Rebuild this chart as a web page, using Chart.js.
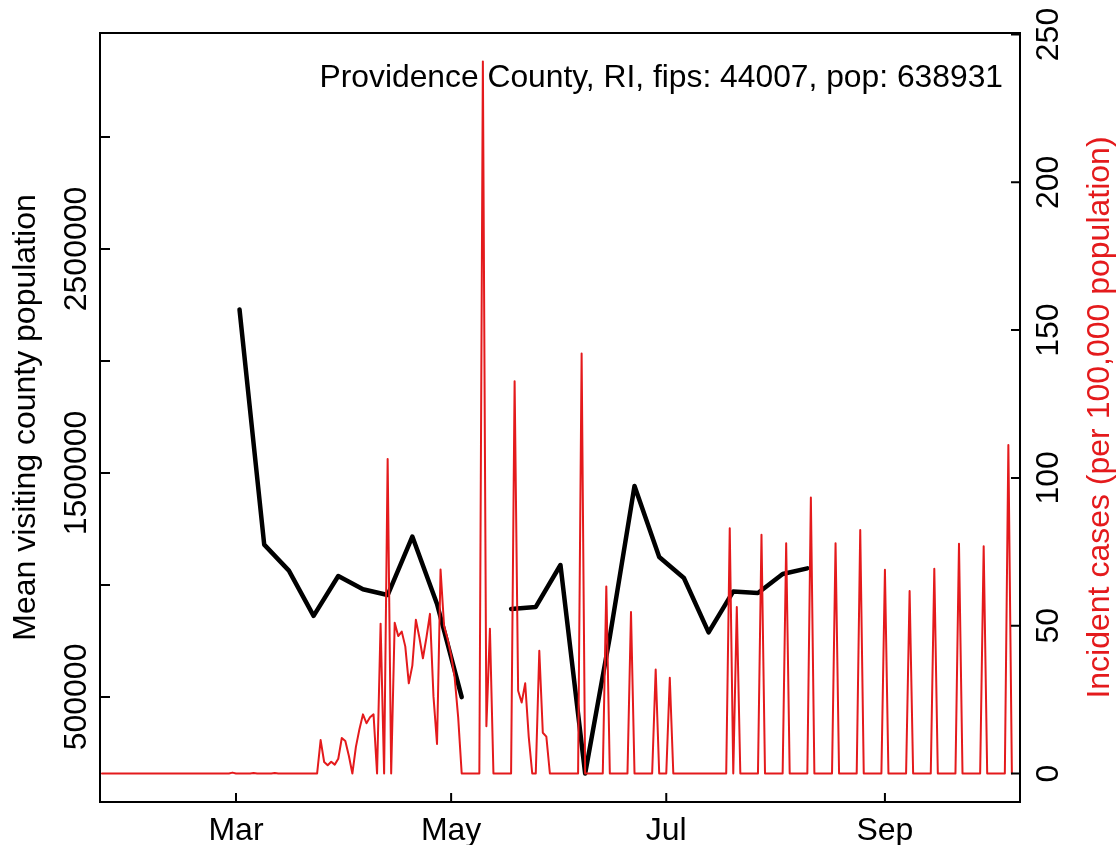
<!DOCTYPE html>
<html>
<head>
<meta charset="utf-8">
<script src="https://cdn.jsdelivr.net/npm/chart.js@4.4.1/dist/chart.umd.min.js"></script>
<style>
  html, body { margin: 0; padding: 0; background: #fff; }
</style>
</head>
<body>
<canvas id="myChart" width="1118" height="845"></canvas>
<script>
// x values are day of year 2020 (Jan 1 = 0)
const monthDays = [60, 121, 182, 244];
const monthLabels = ['Mar', 'May', 'Jul', 'Sep'];

// left axis ticks, only every other one gets a label (like R does)
const leftTicks = [500000, 1000000, 1500000, 2000000, 2500000, 3000000];
const leftLabels = ['500000', '', '1500000', '', '2500000', ''];
const rightTicks = [0, 50, 100, 150, 200, 250];

const titleText = 'Providence County, RI, fips: 44007, pop: 638931';
const leftTitle = 'Mean visiting county population';
const rightTitle = 'Incident cases (per 100,000 population)';

// weekly mean visiting population (black line), null = missing week
const weekDays = [61, 68, 75, 82, 89, 96, 103, 110, 117, 124, 131, 138,
                  145, 152, 159, 166, 173, 180, 187, 194, 201, 208, 215, 222];
const visitors = [2230000, 1180000, 1064000, 862000, 1040000, 981000, 955000, 1216000,
                  915000, 499000, null, 893000, 902000, 1089000, 158000, 768000,
                  1442000, 1125000, 1031000, 788000, 971000, 964000, 1049000, 1074000];

// daily incident cases per 100k (red line), one value per day from caseFirstDay
const caseFirstDay = 22;
const cases = [
  0, 0, 0, 0, 0, 0, 0, 0, 0, 0,            // 22-31
  0, 0, 0, 0, 0, 0, 0, 0, 0, 0,            // 32-41
  0, 0, 0, 0, 0, 0, 0, 0, 0, 0,            // 42-51
  0, 0, 0, 0, 0, 0, 0, 0.3, 0, 0,          // 52-61
  0, 0, 0, 0.16, 0, 0, 0, 0, 0, 0.16,      // 62-71
  0, 0, 0, 0, 0, 0, 0, 0, 0, 0,            // 72-81
  0, 0, 11.3, 3.9, 2.8, 4, 3, 5, 12, 11,   // 82-91
  6, 0, 9, 15, 20, 17, 19, 20, 0, 50.7,    // 92-101
  0, 106.4, 0, 51, 46.5, 48, 43, 30.5, 36.5, 52,   // 102-111
  46, 39, 46, 54, 26, 10, 69, 50, 45.5, 40,        // 112-121
  32.5, 19, 0, 0, 0, 0, 0, 0, 240.9, 16,           // 122-131
  49, 0, 0, 0, 0, 0, 0, 132.7, 28, 24,             // 132-141
  30.5, 12.5, 0, 0, 41.5, 13.8, 12.5, 0, 0, 0,     // 142-151
  0, 0, 0, 0, 0, 0, 142.1, 0, 0, 0,                // 152-161
  0, 0, 0, 63.3, 0, 0, 0, 0, 0, 0,                 // 162-171
  54.6, 0, 0, 0, 0, 0, 0, 35.2, 0, 0,              // 172-181
  0, 32.4, 0, 0, 0, 0, 0, 0, 0, 0,                 // 182-191
  0, 0, 0, 0, 0, 0, 0, 0, 83.0, 0,                 // 192-201
  56.3, 0, 0, 0, 0, 0, 0, 80.8, 0, 0,              // 202-211
  0, 0, 0, 0, 77.9, 0, 0, 0, 0, 0,                 // 212-221
  0, 93.4, 0, 0, 0, 0, 0, 0, 77.9, 0,              // 222-231
  0, 0, 0, 0, 0, 82.4, 0, 0, 0, 0,                 // 232-241
  0, 0, 68.9, 0, 0, 0, 0, 0, 0, 61.7,              // 242-251
  0, 0, 0, 0, 0, 0, 69.3, 0, 0, 0,                 // 252-261
  0, 0, 0, 77.7, 0, 0, 0, 0, 0, 0,                 // 262-271
  76.9, 0, 0, 0, 0, 0, 0, 111.1, 0                 // 272-280
];

const RED = '#e41a1c';
const FONT = '"Liberation Sans", Arial, Helvetica, sans-serif';

document.addEventListener('DOMContentLoaded', () => {

    const casePoints = cases.map((v, i) => ({ x: caseFirstDay + i, y: v }));
    const visitPoints = weekDays.map((d, i) => ({ x: d, y: visitors[i] }));

    // Box, inward tick marks, rotated y labels and the corner text (R style)
    const rFrame = {
        id: 'rFrame',
        afterDraw(chart) {
            const ctx = chart.ctx;
            const a = chart.chartArea;
            const sx = chart.scales.x, sy = chart.scales.y, sr = chart.scales.y1;
            const midY = (a.top + a.bottom) / 2;

            ctx.save();
            ctx.strokeStyle = '#000';
            ctx.lineWidth = 2;
            ctx.strokeRect(a.left, a.top, a.right - a.left, a.bottom - a.top);

            ctx.beginPath();
            monthDays.forEach(d => {
                const px = sx.getPixelForValue(d);
                ctx.moveTo(px, a.bottom);
                ctx.lineTo(px, a.bottom - 9);
            });
            leftTicks.forEach(v => {
                const py = sy.getPixelForValue(v);
                ctx.moveTo(a.left, py);
                ctx.lineTo(a.left + 10, py);
            });
            rightTicks.forEach(v => {
                const py = sr.getPixelForValue(v);
                ctx.moveTo(a.right, py);
                ctx.lineTo(a.right - 9, py);
            });
            ctx.stroke();

            ctx.font = '32px ' + FONT;
            ctx.textAlign = 'center';
            ctx.textBaseline = 'alphabetic';
            ctx.fillStyle = '#000';

            function rotText(txt, x, y) {
                ctx.save();
                ctx.translate(x, y);
                ctx.rotate(-Math.PI / 2);
                ctx.fillText(txt, 0, 0);
                ctx.restore();
            }

            leftTicks.forEach((v, i) => {
                if (leftLabels[i]) rotText(leftLabels[i], a.left - 14, sy.getPixelForValue(v));
            });
            rightTicks.forEach(v => rotText(String(v), a.right + 38, sr.getPixelForValue(v)));

            rotText(leftTitle, a.left - 65, midY);
            ctx.fillStyle = RED;
            rotText(rightTitle, a.right + 89, midY);

            ctx.fillStyle = '#000';
            ctx.textAlign = 'right';
            ctx.font = '31.8px ' + FONT;
            ctx.fillText(titleText, a.right - 17, a.top + 54);
            ctx.restore();
        }
    };

    const ctx = document.getElementById('myChart').getContext('2d');
    const chart = new Chart(ctx, {
        type: 'line',
        data: {
            datasets: [
                {
                    label: 'Incident cases',
                    data: casePoints,
                    yAxisID: 'y1',
                    borderColor: RED,
                    borderWidth: 2,
                    borderJoinStyle: 'round',
                    borderCapStyle: 'round',
                    pointRadius: 0,
                    tension: 0
                },
                {
                    label: 'Mean visiting county population',
                    data: visitPoints,
                    yAxisID: 'y',
                    borderColor: '#000',
                    borderWidth: 4.5,
                    borderJoinStyle: 'round',
                    borderCapStyle: 'round',
                    pointRadius: 0,
                    tension: 0,
                    spanGaps: false
                }
            ]
        },
        options: {
            responsive: false,
            animation: false,
            devicePixelRatio: 1,
            layout: { padding: { left: 100, right: 98, top: 33, bottom: 0 } },
            plugins: {
                legend: { display: false },
                tooltip: { enabled: false }
            },
            scales: {
                x: {
                    type: 'linear',
                    min: 21.44,
                    max: 282.3,
                    grid: { display: false, drawTicks: false },
                    border: { display: false },
                    afterBuildTicks: s => { s.ticks = monthDays.map(d => ({ value: d })); },
                    afterFit: s => { s.height = 43; },
                    ticks: {
                        autoSkip: false,
                        maxRotation: 0,
                        padding: 10,
                        color: '#000',
                        font: { size: 32, family: FONT },
                        callback: v => monthLabels[monthDays.indexOf(v)]
                    }
                },
                y: {
                    display: false,
                    min: 31000,
                    max: 3464000
                },
                y1: {
                    display: false,
                    min: -9.64,
                    max: 250.5
                }
            }
        },
        plugins: [rFrame]
    });

});
</script>
</body>
</html>
